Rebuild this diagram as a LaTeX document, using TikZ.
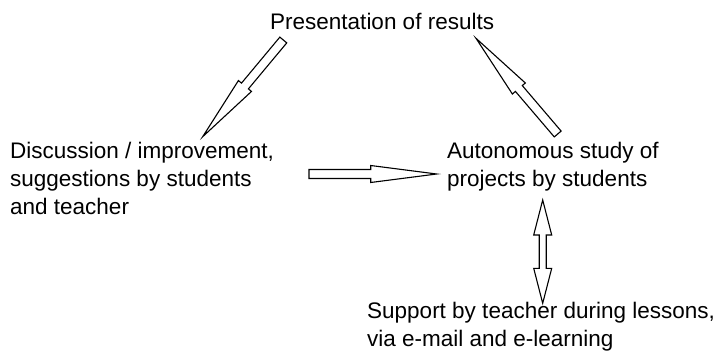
\documentclass[tikz,border=0pt]{standalone}
\usepackage{fontspec}
\setmainfont{Liberation Sans}
\usetikzlibrary{calc}

% block arrow from #1 (tail) to #2 (tip)
\newcommand{\blockarrow}[2]{%
  \coordinate (j) at ($(#2)!66pt!(#1)$);
  \draw[blockline] ($(#1)!4.5pt!90:(#2)$) -- ($(j)!4.5pt!90:(#2)$) -- ($(j)!8.5pt!90:(#2)$)
    -- (#2) -- ($(j)!8.5pt!-90:(#2)$) -- ($(j)!4.5pt!-90:(#2)$) -- ($(#1)!4.5pt!-90:(#2)$) -- cycle;
}
% double block arrow between #1 and #2
\newcommand{\dblockarrow}[2]{%
  \coordinate (ja) at ($(#1)!35pt!(#2)$);
  \coordinate (jb) at ($(#2)!35pt!(#1)$);
  \draw[blockline] (#1) -- ($(ja)!9pt!90:(#2)$) -- ($(ja)!3.5pt!90:(#2)$) -- ($(jb)!3.5pt!90:(#2)$)
    -- ($(jb)!9pt!90:(#2)$) -- (#2) -- ($(jb)!9pt!-90:(#2)$) -- ($(jb)!3.5pt!-90:(#2)$)
    -- ($(ja)!3.5pt!-90:(#2)$) -- ($(ja)!9pt!-90:(#2)$) -- cycle;
}

\begin{document}
\begin{tikzpicture}[x=1pt, y=-1pt,
    blockline/.style={draw=black, line width=1.1pt, line join=miter, fill=white},
    label/.style={inner sep=0pt, anchor=base west, align=left,
      font=\fontsize{22.5}{28}\selectfont}]
    \useasboundingbox (0,0) rectangle (718,356);

    % Texts (base = last line)
    \node[label] (res) at (270,30) {Presentation of results};
    \node[label] (disc) at (10,214) {Discussion / improvement,\\suggestions by students\\and teacher};
    \node[label] (auto) at (447,186) {Autonomous study of\\projects by students};
    \node[label] (supp) at (367,346) {Support by teacher during lessons,\\via e-mail and e-learning};

    % Arrow ends
    \coordinate (res-out) at (283.3,40);   \coordinate (disc-in) at (202.7,136.7);
    \coordinate (auto-out) at (557.7,134); \coordinate (res-in) at (476,38.3);
    \coordinate (disc-out) at (309,174);   \coordinate (auto-in) at (436.7,174);
    \coordinate (auto-s) at (542.7,200);   \coordinate (supp-n) at (542.7,303.3);

    \blockarrow{res-out}{disc-in}
    \blockarrow{auto-out}{res-in}
    \blockarrow{disc-out}{auto-in}
    \dblockarrow{auto-s}{supp-n}
\end{tikzpicture}
\end{document}
